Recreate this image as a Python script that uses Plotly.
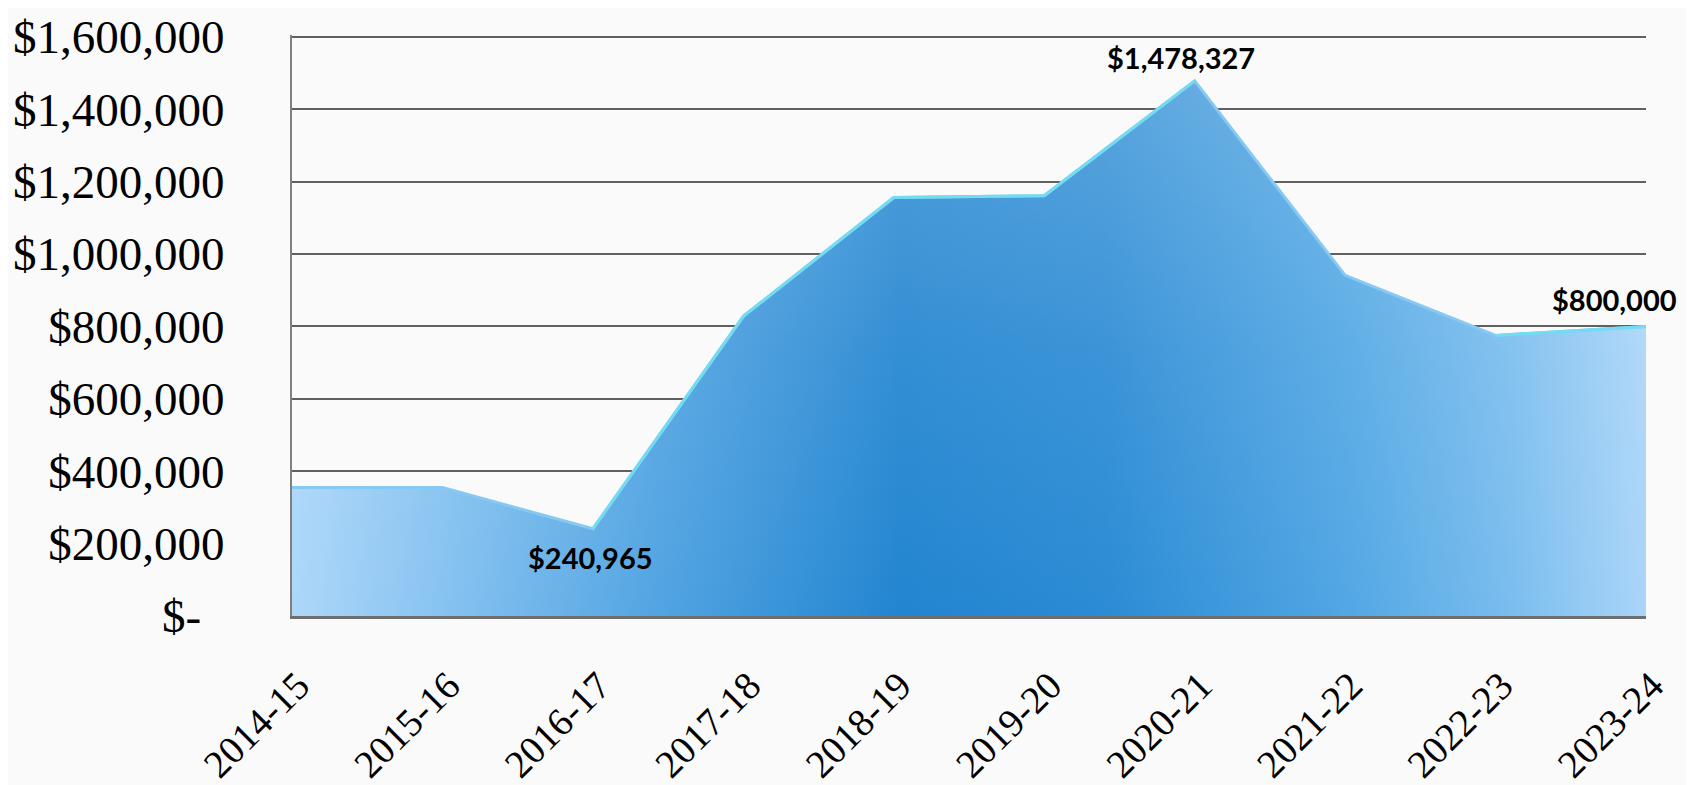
import plotly.graph_objects as go

years = ["2014-15", "2015-16", "2016-17", "2017-18", "2018-19",
         "2019-20", "2020-21", "2021-22", "2022-23", "2023-24"]
amounts = [355000, 355000, 240965, 828000, 1156000,
           1161000, 1478327, 941000, 775000, 800000]

y_ticks = [0, 200000, 400000, 600000, 800000, 1000000, 1200000, 1400000, 1600000]
y_tick_text = ["$-\u00a0\u00a0", "$200,000", "$400,000", "$600,000", "$800,000",
               "$1,000,000", "$1,200,000", "$1,400,000", "$1,600,000"]

# labelled points: (index, text, xshift, yshift, yanchor)
labels = [(2, "$240,965", -2, -9, "top"),
          (6, "$1,478,327", -14, 4, "bottom"),
          (9, "$800,000", -32, 7, "bottom")]

fig = go.Figure()

# main area with horizontal gradient
fig.add_trace(go.Scatter(
    x=years, y=amounts, mode="lines", line=dict(width=0, color="rgba(0,0,0,0)"),
    fill="tozeroy",
    fillgradient=dict(type="horizontal", colorscale=[
        [0.0, "#add7f9"], [0.12, "#84c1f0"], [0.27, "#52a4e2"],
        [0.45, "#2285d0"], [0.6, "#2b8bd4"], [0.78, "#52a7e4"],
        [0.9, "#7abdee"], [1.0, "#aad5f8"]]),
    hoverinfo="skip", showlegend=False))

# lightening overlay towards the top
fig.add_trace(go.Scatter(
    x=years, y=amounts, mode="lines", line=dict(width=0, color="rgba(0,0,0,0)"),
    fill="tozeroy",
    fillgradient=dict(type="vertical", colorscale=[
        [0.0, "rgba(255,255,255,0)"], [0.5, "rgba(255,255,255,0.08)"],
        [1.0, "rgba(255,255,255,0.22)"]], start=0, stop=max(amounts)),
    hoverinfo="skip", showlegend=False))

# top edge line
fig.add_trace(go.Scatter(
    x=years, y=amounts, mode="lines", line=dict(width=3, color="#86c9f2"),
    hoverinfo="skip", showlegend=False))

# highlight on rising segments
rise_x, rise_y = [], []
for i in range(1, len(amounts)):
    if amounts[i] > amounts[i - 1]:
        rise_x += [years[i - 1], years[i], None]
        rise_y += [amounts[i - 1], amounts[i], None]
fig.add_trace(go.Scatter(
    x=rise_x, y=rise_y, mode="lines", line=dict(width=3, color="#72dcf2"),
    connectgaps=False, hoverinfo="skip", showlegend=False))

for idx, txt, xs, ys, ya in labels:
    fig.add_annotation(x=years[idx], y=amounts[idx], text="<b>" + txt + "</b>",
                       showarrow=False, xshift=xs, yshift=ys, yanchor=ya,
                       font=dict(family="Lato", size=29, color="#000000"))

fig.update_layout(
    width=1694, height=785,
    margin=dict(l=284, r=56, t=27, b=177),
    paper_bgcolor="#fafafa", plot_bgcolor="#fafafa",
    showlegend=False,
    xaxis=dict(type="category", range=[0, len(years) - 1], showgrid=False,
               tickangle=-45, ticks="", ticklabelstandoff=28, ticklabelshift=6,
               automargin=False,
               tickfont=dict(family="Liberation Serif", size=39, color="#000000"),
               showline=True, linecolor="#6e6e6e", linewidth=3, zeroline=False),
    yaxis=dict(range=[0, 1605000], tickvals=y_ticks, ticktext=y_tick_text,
               showgrid=True, gridcolor="#606060", gridwidth=2, automargin=False,
               ticks="", ticklabelstandoff=56, ticklabeloverflow="allow",
               tickfont=dict(family="Liberation Serif", size=47, color="#000000"),
               showline=True, linecolor="#808080", linewidth=2, zeroline=False),
)

fig.write_html("out.html")
